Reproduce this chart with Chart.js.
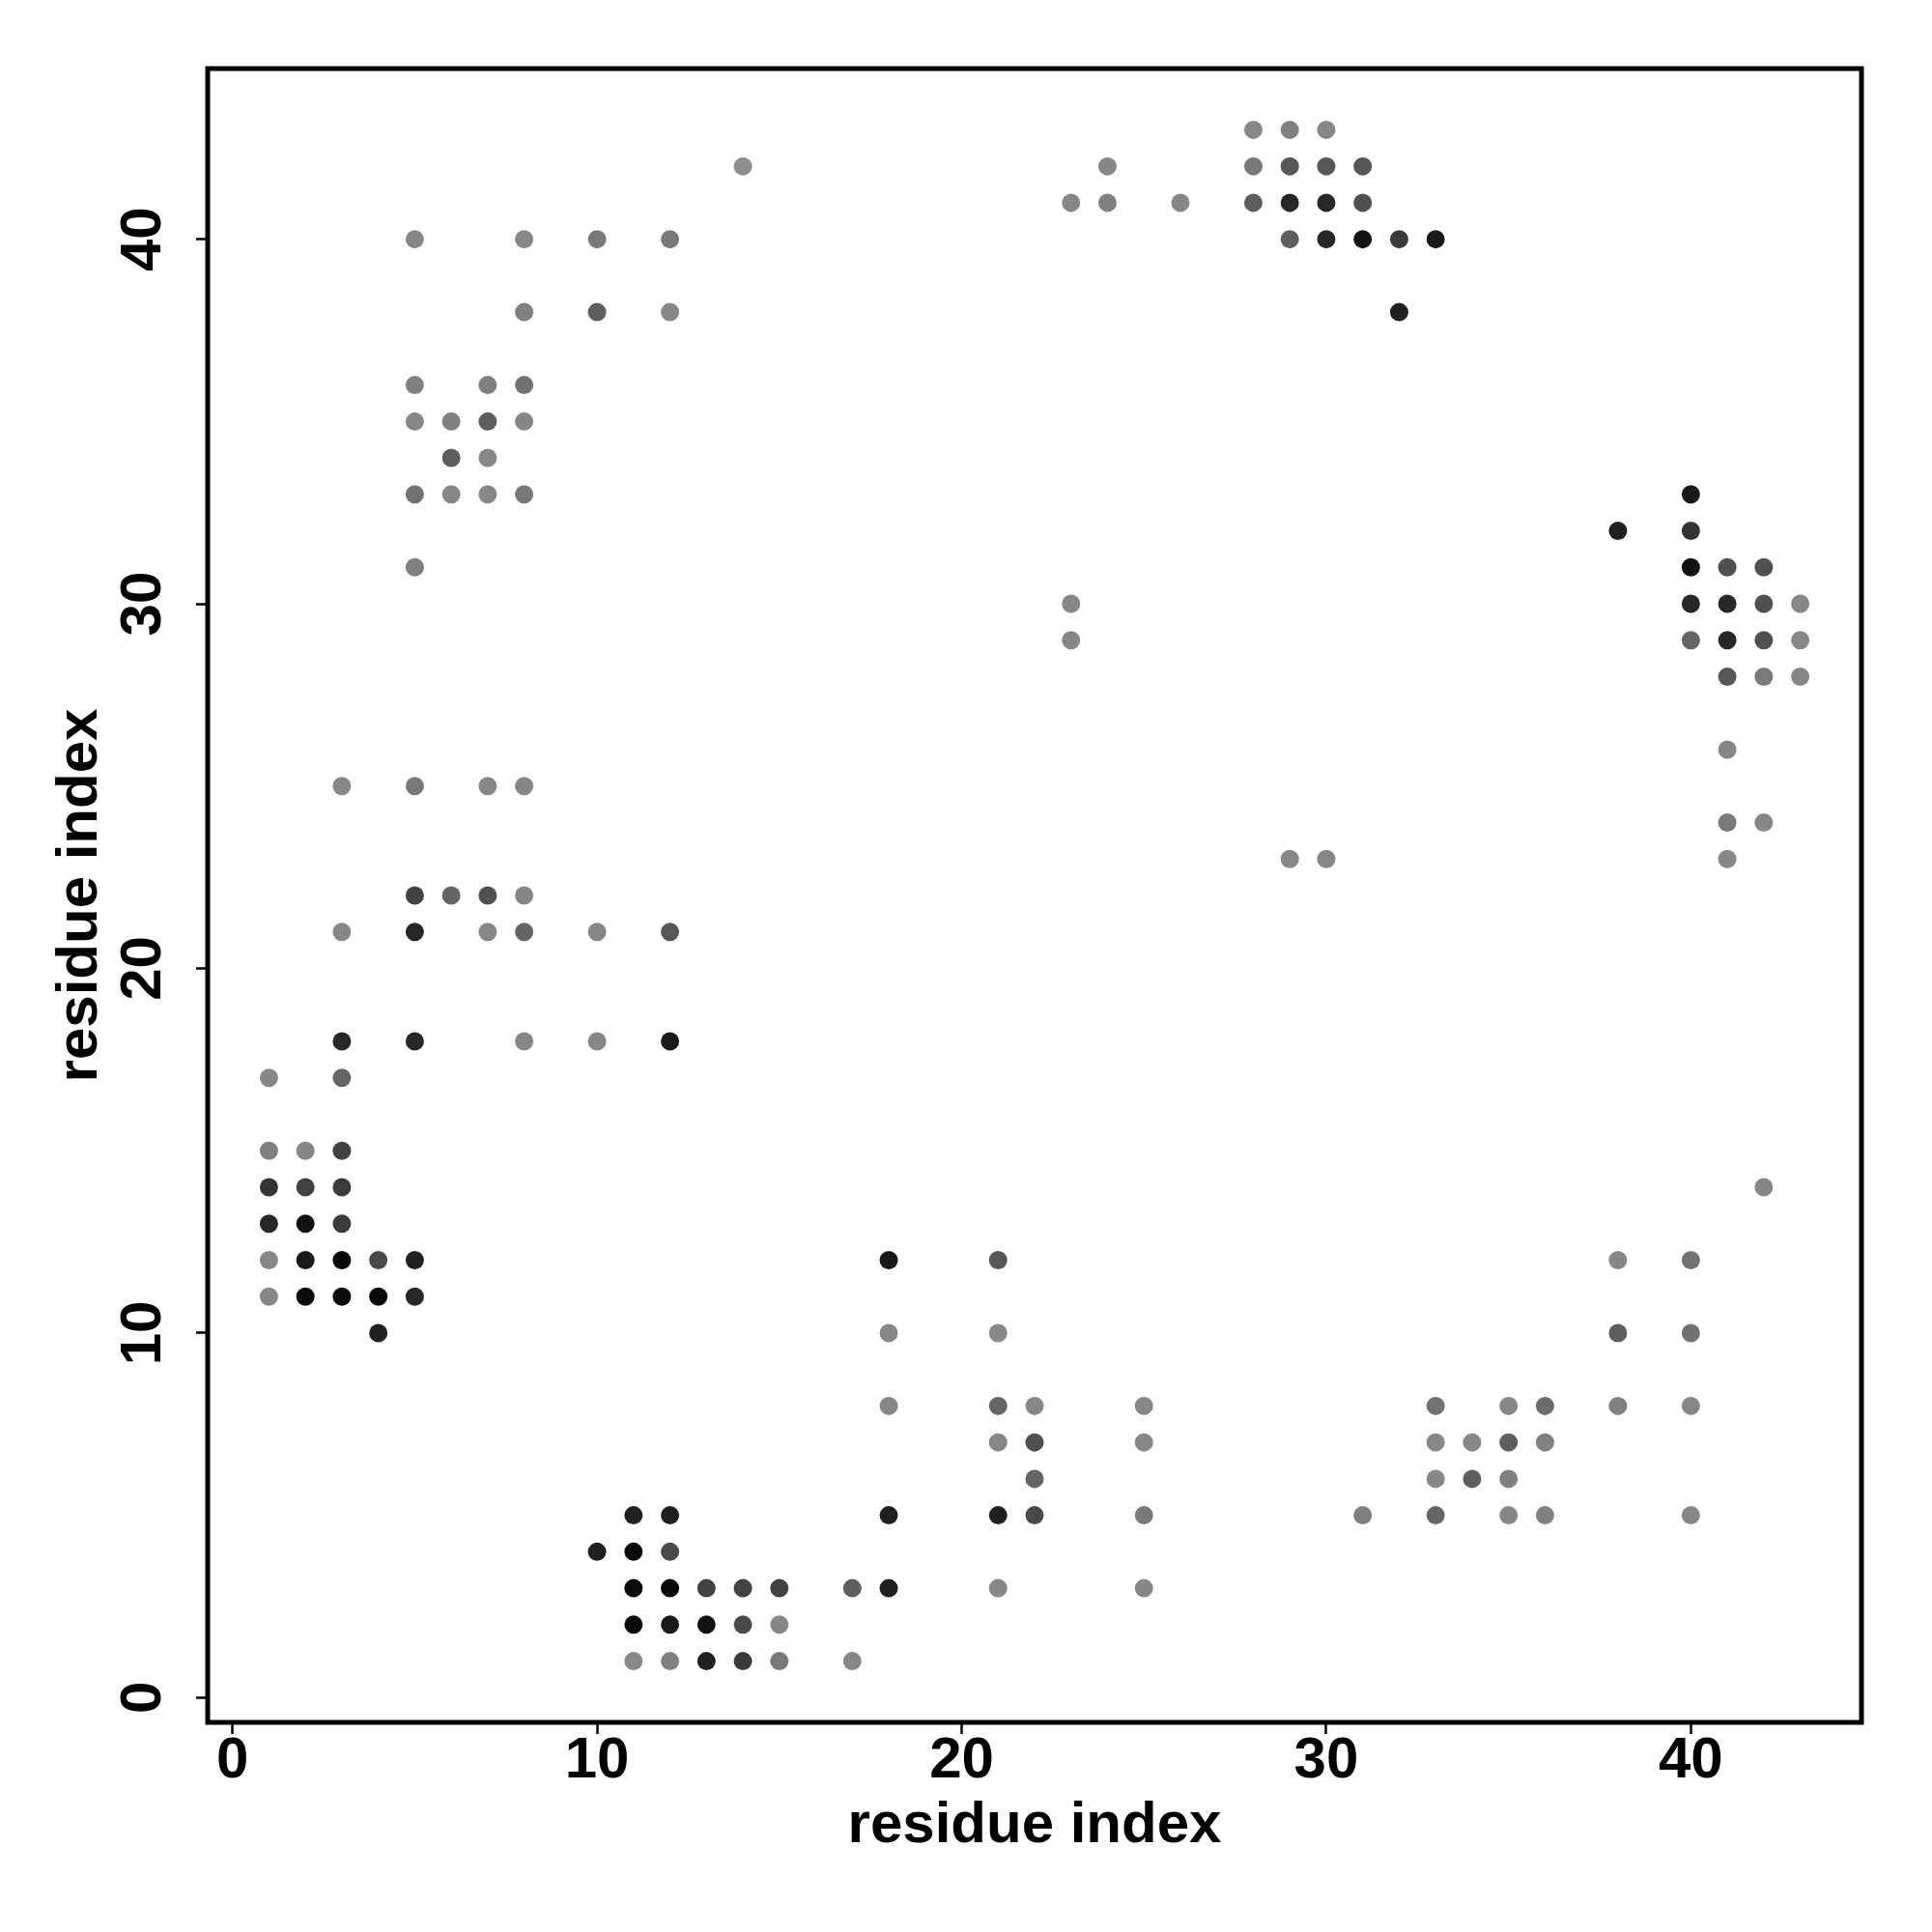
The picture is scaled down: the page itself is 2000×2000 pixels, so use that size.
<!DOCTYPE html>
<html>
<head>
<meta charset="utf-8">
<script src="https://cdn.jsdelivr.net/npm/chart.js@4/dist/chart.umd.min.js"></script>
<style>
  html, body { margin: 0; padding: 0; background: #fff; }
  #wrap { width: 2000px; height: 2000px; }
</style>
</head>
<body>
<div id="wrap"><canvas id="contact-map" width="2000" height="2000"></canvas></div>
<script>
// contact map: residue i (x), residue j (y), contact strength (0 light .. 1 black)
const residueI = [
    28, 29, 30,
    14, 24, 28, 29, 30, 31,
    23, 24, 26, 28, 29, 30, 31,
    5, 8, 10, 12, 29, 30, 31, 32, 33,
    8, 10, 12, 32,
    5, 7, 8,
    5, 6, 7, 8,
    6, 7,
    5, 6, 7, 8, 40,
    38, 40,
    5, 40, 41, 42,
    23, 40, 41, 42, 43,
    23, 40, 41, 42, 43,
    41, 42, 43,
    41,
    3, 5, 7, 8,
    41, 42,
    29, 30, 41,
    5, 6, 7, 8,
    3, 5, 7, 8, 10, 12,
    3, 5, 8, 10, 12,
    1, 3,
    1, 2, 3,
    1, 2, 3, 42,
    1, 2, 3,
    1, 2, 3, 4, 5, 18, 21, 38, 40,
    1, 2, 3, 4, 5,
    4, 18, 21, 38, 40,
    18, 21, 22, 25, 33, 35, 36, 38, 40,
    21, 22, 25, 33, 34, 35, 36,
    22, 33, 34, 35,
    11, 12, 18, 21, 22, 25, 31, 33, 35, 36, 40,
    10, 11, 12,
    11, 12, 13, 14, 15, 17, 18, 21, 25,
    11, 12, 13, 14, 15,
    11, 12, 13, 14, 15, 17
];
const residueJ = [
    43, 43, 43,
    42, 42, 42, 42, 42, 42,
    41, 41, 41, 41, 41, 41, 41,
    40, 40, 40, 40, 40, 40, 40, 40, 40,
    38, 38, 38, 38,
    36, 36, 36,
    35, 35, 35, 35,
    34, 34,
    33, 33, 33, 33, 33,
    32, 32,
    31, 31, 31, 31,
    30, 30, 30, 30, 30,
    29, 29, 29, 29, 29,
    28, 28, 28,
    26,
    25, 25, 25, 25,
    24, 24,
    23, 23, 23,
    22, 22, 22, 22,
    21, 21, 21, 21, 21, 21,
    18, 18, 18, 18, 18,
    17, 17,
    15, 15, 15,
    14, 14, 14, 14,
    13, 13, 13,
    12, 12, 12, 12, 12, 12, 12, 12, 12,
    11, 11, 11, 11, 11,
    10, 10, 10, 10, 10,
    8, 8, 8, 8, 8, 8, 8, 8, 8,
    7, 7, 7, 7, 7, 7, 7,
    6, 6, 6, 6,
    5, 5, 5, 5, 5, 5, 5, 5, 5, 5, 5,
    4, 4, 4,
    3, 3, 3, 3, 3, 3, 3, 3, 3,
    2, 2, 2, 2, 2,
    1, 1, 1, 1, 1, 1
];
const strength = [
    .05, .1, .05,
    0, .05, .15, .4, .4, .4,
    .05, .1, .05, .35, .75, .75, .45,
    .05, .05, .15, .15, .35, .75, .9, .6, .85,
    .1, .35, .05, .8,
    .1, .1, .2,
    .05, .1, .35, .05,
    .35, .05,
    .2, .05, .05, .15, .85,
    .8, .65,
    .1, .9, .45, .45,
    .05, .75, .75, .45, .05,
    .05, .3, .75, .45, .05,
    .4, .15, .05,
    .05,
    .05, .15, .05, .05,
    .15, .05,
    .05, .05, .05,
    .55, .3, .45, .05,
    .05, .75, .05, .3, .05, .4,
    .75, .75, .05, .05, .85,
    .05, .3,
    .1, .05, .55,
    .65, .55, .6, .05,
    .75, .9, .6,
    .05, .85, .97, .5, .8, .85, .4, .05, .2,
    .05, .95, .95, .97, .75,
    .8, .05, .05, .35, .2,
    .05, .3, .05, .05, .2, .05, .25, .1, .05,
    .05, .45, .05, .05, .05, .35, .1,
    .3, .05, .35, .1,
    .8, .8, .8, .8, .5, .15, .1, .3, .05, .1, .05,
    .8, .97, .5,
    .95, .97, .55, .55, .55, .35, .8, .05, .05,
    .97, .85, .9, .5, .05,
    .05, .1, .8, .6, .15, .05
];
const tickValues = [0, 10, 20, 30, 40];
const axisMin = -0.68;
const axisMax = 44.68;
const axisTitle = "residue index";

const points = residueI.map((x, k) => ({ x: x, y: residueJ[k] }));
const colors = strength.map(s => {
    const g = Math.round(142 - 138 * s);
    return `rgb(${g},${g},${g})`;
});

const font = { family: "'Liberation Sans', Arial, sans-serif", size: 60, weight: "bold" };

// box round the plot area
const frame = {
    id: "frame",
    afterDatasetsDraw(chart) {
        const { ctx, chartArea: a } = chart;
        ctx.save();
        ctx.strokeStyle = "#000";
        ctx.lineWidth = 5;
        ctx.strokeRect(a.left, a.top, a.right - a.left, a.bottom - a.top);
        ctx.restore();
    }
};

function axisOptions(isX) {
    return {
        type: "linear",
        min: axisMin,
        max: axisMax,
        afterBuildTicks: scale => { scale.ticks = tickValues.map(v => ({ value: v })); },
        afterFit: scale => {
            if (isX) scale.height = 217;
            else scale.width = 215;
        },
        border: { display: false },
        grid: {
            display: true,
            drawOnChartArea: false,
            drawTicks: true,
            tickLength: 12,
            tickWidth: 2.5,
            tickColor: "#000"
        },
        ticks: isX
            ? { color: "#000", font: font, padding: -8, maxRotation: 0 }
            : { color: "#000", font: font, padding: 20, minRotation: 90, maxRotation: 90, crossAlign: "center" },
        title: {
            display: true,
            text: axisTitle,
            color: "#000",
            font: font,
            padding: isX ? { top: 0, bottom: 74 } : { top: 47, bottom: 0 }
        }
    };
}

new Chart(document.getElementById("contact-map").getContext("2d"), {
    type: "scatter",
    data: {
        datasets: [{
            data: points,
            pointBackgroundColor: colors,
            pointBorderWidth: 0,
            pointRadius: 9.5,
            pointHoverRadius: 9.5
        }]
    },
    options: {
        responsive: false,
        animation: false,
        devicePixelRatio: 1,
        layout: { padding: { left: 0, top: 71, right: 73, bottom: 0 } },
        plugins: { legend: { display: false }, tooltip: { enabled: false } },
        scales: { x: axisOptions(true), y: axisOptions(false) }
    },
    plugins: [frame]
});
</script>
</body>
</html>
